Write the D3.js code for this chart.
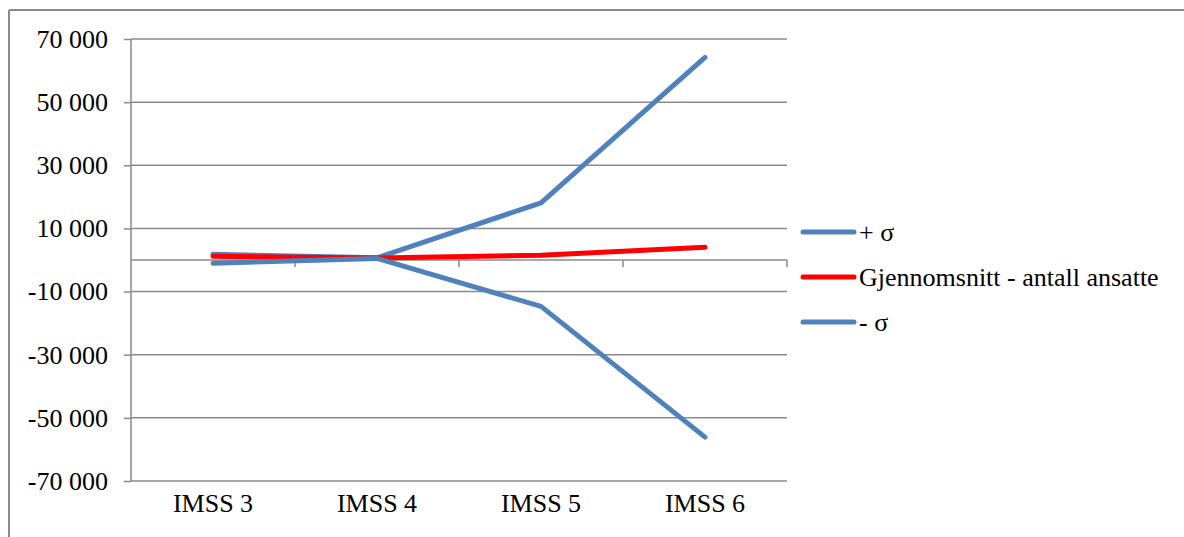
<!DOCTYPE html>
<html>
<head>
<meta charset="utf-8">
<script src="https://cdn.jsdelivr.net/npm/d3@7"></script>
<style>
  html, body { margin: 0; padding: 0; background: #fff; }
  svg { display: block; }
</style>
</head>
<body>
<svg id="chart" width="1184" height="537"></svg>
<script>
// Categories and series (employees: mean and ± one standard deviation)
const categories = ["IMSS 3", "IMSS 4", "IMSS 5", "IMSS 6"];
const plusSigma  = [1800, 700, 18100, 64200];
const meanValues = [1200, 600, 1500, 4050];
const minusSigma = [-1000, 500, -14700, -56100];
const yTicks = [-70000, -50000, -30000, -10000, 10000, 30000, 50000, 70000];
const seriesNames = ["+ σ", "Gjennomsnitt - antall ansatte", "- σ"];

const series = [
  { name: seriesNames[0], values: plusSigma,  color: "#4F81BD" },
  { name: seriesNames[1], values: meanValues, color: "#FF0000" },
  { name: seriesNames[2], values: minusSigma, color: "#4F81BD" }
];

const FONT = "'Liberation Serif', 'Times New Roman', serif";
const fontSize = 26;
const svg = d3.select("#chart")
  .attr("font-family", FONT);
const plot = { left: 131, right: 787, top: 39, bottom: 481 };
const gridColor = "#8a8a8a";

// Outer chart frame (top and left edges visible)
svg.append("line").attr("x1", 9).attr("y1", 10).attr("x2", 1184).attr("y2", 10)
  .attr("stroke", gridColor).attr("stroke-width", 2);
svg.append("line").attr("x1", 9).attr("y1", 10).attr("x2", 9).attr("y2", 537)
  .attr("stroke", gridColor).attr("stroke-width", 2);

const y = d3.scaleLinear().domain([-70000, 70000]).range([plot.bottom, plot.top]);
const x = d3.scaleBand().domain(categories).range([plot.left, plot.right]).padding(0);

const fmt = v => d3.format(",")(v).replace(/,/g, " ").replace("−", "-");

// Horizontal gridlines
svg.append("g").selectAll("line").data(yTicks).join("line")
  .attr("x1", plot.left).attr("x2", plot.right)
  .attr("y1", d => y(d)).attr("y2", d => y(d))
  .attr("stroke", gridColor).attr("stroke-width", 1.5);

// Value axis
const yAxis = svg.append("g")
  .attr("transform", `translate(${plot.left},0)`)
  .call(d3.axisLeft(y).tickValues(yTicks).tickSize(7).tickPadding(16).tickFormat(fmt))
  .attr("font-family", FONT)
  .attr("font-size", fontSize);
yAxis.select(".domain").attr("stroke", gridColor).attr("stroke-width", 1.5)
  .attr("d", `M0,${plot.top}V${plot.bottom}`);
yAxis.selectAll(".tick line").attr("stroke", gridColor).attr("stroke-width", 1.5);
yAxis.selectAll(".tick text").attr("fill", "#000");

// Category axis line at zero, with boundary tick marks
const xAxisG = svg.append("g").attr("transform", `translate(0,${y(0)})`);
xAxisG.append("line").attr("x1", plot.left).attr("x2", plot.right)
  .attr("y1", 0).attr("y2", 0).attr("stroke", gridColor).attr("stroke-width", 1.5);
const boundaries = categories.map(c => x(c) + x.bandwidth());
xAxisG.selectAll("line.tk").data(boundaries).join("line").attr("class", "tk")
  .attr("x1", d => d).attr("x2", d => d).attr("y1", 0).attr("y2", 7)
  .attr("stroke", gridColor).attr("stroke-width", 1.5);

// Category labels below the plot
svg.append("g").selectAll("text").data(categories).join("text")
  .attr("x", d => x(d) + x.bandwidth() / 2)
  .attr("y", 512)
  .attr("text-anchor", "middle")
  .attr("font-family", FONT)
  .attr("font-size", fontSize)
  .attr("fill", "#000")
  .text(d => d);

// Series lines
const line = d3.line()
  .x((d, i) => x(categories[i]) + x.bandwidth() / 2)
  .y(d => y(d));

svg.append("g").selectAll("path").data(series).join("path")
  .attr("d", d => line(d.values))
  .attr("fill", "none")
  .attr("stroke", d => d.color)
  .attr("stroke-width", 5)
  .attr("stroke-linecap", "round")
  .attr("stroke-linejoin", "round");

// Legend
const legend = svg.append("g");
const legendY = [232, 277, 322];
series.forEach((s, i) => {
  legend.append("line")
    .attr("x1", 803).attr("x2", 854)
    .attr("y1", legendY[i]).attr("y2", legendY[i])
    .attr("stroke", s.color).attr("stroke-width", 5).attr("stroke-linecap", "round");
  legend.append("text")
    .attr("x", 859).attr("y", legendY[i])
    .attr("dy", "0.33em")
    .attr("font-family", FONT)
    .attr("font-size", fontSize)
    .attr("fill", "#000")
    .text(s.name);
});
</script>
</body>
</html>
